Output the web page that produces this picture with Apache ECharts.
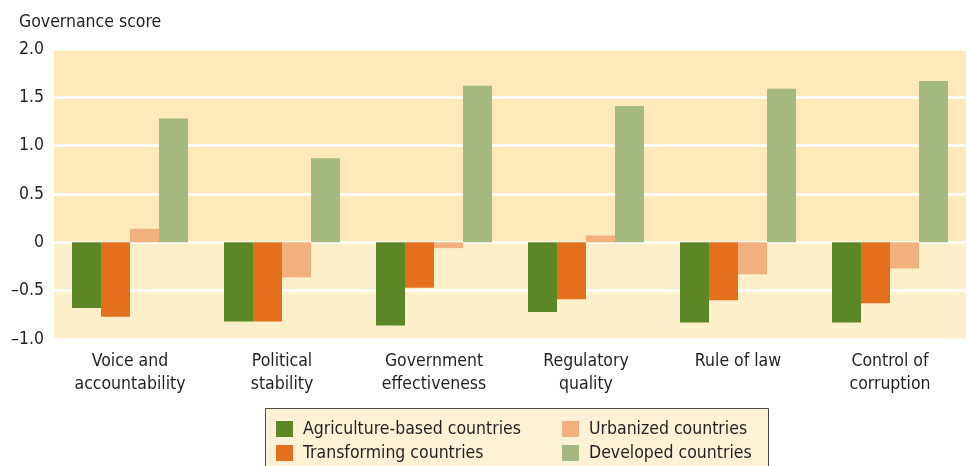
<!DOCTYPE html>
<html>
<head>
<meta charset="utf-8">
<script src="https://cdn.jsdelivr.net/npm/echarts@6/dist/echarts.min.js"></script>
<style>
  html, body { margin: 0; padding: 0; background: #fff; }
  #main { width: 968px; height: 466px; }
</style>
</head>
<body>
<div id="main"></div>
<script>
// 数据
var categories = ['Voice and\naccountability', 'Political\nstability', 'Government\neffectiveness',
    'Regulatory\nquality', 'Rule of law', 'Control of\ncorruption'];
var agriculture = [-0.68, -0.82, -0.86, -0.72, -0.83, -0.83];
var transforming = [-0.77, -0.82, -0.47, -0.59, -0.60, -0.63];
var urbanized = [0.14, -0.36, -0.06, 0.07, -0.33, -0.27];
var developed = [1.28, 0.87, 1.62, 1.41, 1.59, 1.67];
var seriesNames = ['Agriculture-based countries', 'Transforming countries', 'Urbanized countries', 'Developed countries'];
var yTicks = { min: -1, max: 2, interval: 0.5 };

var font = '"Liberation Sans Narrow", "DejaVu Sans Condensed", "Liberation Sans", sans-serif';
var textColor = '#231f20';
var colors = ['#5c8727', '#e4701d', '#f3b07f', '#a3b980'];

var myChart = echarts.init(document.getElementById('main'));

function barSeries(name, data, idx) {
    return {
        name: name,
        type: 'bar',
        data: data,
        barWidth: 29,
        barGap: '0%',
        itemStyle: { color: colors[idx] }
    };
}

var legendText = { fontFamily: font, fontSize: 17.5, color: textColor, padding: [0, 0, 0, 5] };

function legendBlock(left, names) {
    return {
        orient: 'vertical',
        left: left,
        top: 420,
        height: 100,
        padding: 0,
        icon: 'rect',
        itemWidth: 17,
        itemHeight: 16,
        itemGap: 6,
        data: names,
        textStyle: legendText
    };
}

var option = {
    animation: false,
    textStyle: { fontFamily: font },
    title: {
        text: 'Governance score',
        left: 14,
        top: 8,
        textStyle: { fontFamily: font, fontSize: 17.5, fontWeight: 'normal', color: textColor }
    },
    grid: {
        left: 54,
        right: 2,
        top: 49,
        bottom: 127,
        containLabel: false
    },
    graphic: [{
        type: 'rect',
        left: 265,
        top: 408,
        shape: { width: 503, height: 62 },
        style: { fill: '#fef1d6', stroke: '#4a4a4a', lineWidth: 1 },
        z: 0
    }],
    legend: [
        legendBlock(276, [seriesNames[0], seriesNames[1]]),
        legendBlock(562, [seriesNames[2], seriesNames[3]])
    ],
    xAxis: {
        type: 'category',
        data: categories,
        axisLine: { show: false },
        axisTick: { show: false },
        axisLabel: {
            fontFamily: font,
            fontSize: 17.5,
            color: textColor,
            lineHeight: 23,
            margin: 11,
            interval: 0
        }
    },
    yAxis: {
        type: 'value',
        min: yTicks.min,
        max: yTicks.max,
        interval: yTicks.interval,
        axisLine: { show: false },
        axisTick: { show: false },
        axisLabel: {
            fontFamily: font,
            fontSize: 17.5,
            color: textColor,
            margin: 10,
            formatter: function (v) {
                if (v === 0) return '0';
                return v.toFixed(1).replace('-', '\u2013');
            }
        },
        splitLine: { lineStyle: { color: '#ffffff', width: 2.5 } },
        splitArea: {
            show: true,
            areaStyle: { color: ['#feefcb', '#feefcb', '#fde9b9', '#fde9b9', '#fde9b9', '#fde9b9'] }
        }
    },
    series: [
        barSeries(seriesNames[0], agriculture, 0),
        barSeries(seriesNames[1], transforming, 1),
        barSeries(seriesNames[2], urbanized, 2),
        barSeries(seriesNames[3], developed, 3)
    ]
};

myChart.setOption(option);
</script>
</body>
</html>
